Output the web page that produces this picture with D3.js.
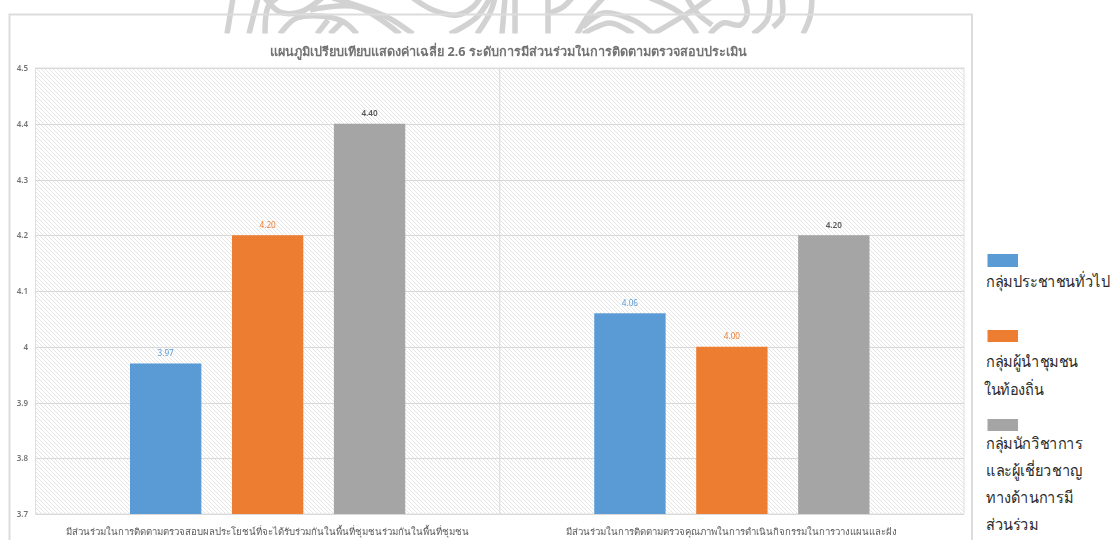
<!DOCTYPE html>
<html><head><meta charset="utf-8">
<script src="https://cdn.jsdelivr.net/npm/d3@7"></script>
<style>html,body{margin:0;padding:0;background:#fff;overflow:hidden}svg{display:block}text{font-family:"Noto Sans",sans-serif}</style>
</head><body><svg id="c" width="1112" height="540"></svg>
<script>
const categories=["มีส่วนร่วมในการติดตามตรวจสอบผลประโยชน์ที่จะได้รับร่วมกันในพื้นที่ชุมชนร่วมกันในพื้นที่ชุมชน","มีส่วนร่วมในการติดตามตรวจคุณภาพในการดำเนินกิจกรรมในการวางแผนและฝัง"];
const seriesNames=["กลุ่มประชาชนทั่วไป","กลุ่มผู้นำชุมชน","กลุ่มนักวิชาการ"];
const legendLines=[["กลุ่มประชาชนทั่วไป"],["กลุ่มผู้นำชุมชน","ในท้องถิ่น"],["กลุ่มนักวิชาการ","และผู้เชี่ยวชาญ","ทางด้านการมี","ส่วนร่วม"]];
const publicValues=[3.97,4.06];
const leaderValues=[4.20,4.00];
const academicValues=[4.40,4.20];
const yTicks=[3.7,3.8,3.9,4,4.1,4.2,4.3,4.4,4.5];
const colors=["#5b9bd5","#ed7d31","#a5a5a5"];
const labelColors=["#5b9bd5","#ed7d31","#595959"];
const titleText="แผนภูมิเปรียบเทียบแสดงค่าเฉลี่ย 2.6 ระดับการมีส่วนร่วมในการติดตามตรวจสอบประเมิน";
const series=[publicValues,leaderValues,academicValues];

const svg=d3.select("#c");
const defs=svg.append("defs");
const p=defs.append("pattern").attr("id","h").attr("width",4).attr("height",4).attr("patternUnits","userSpaceOnUse");
p.append("rect").attr("width",4).attr("height",4).attr("fill","#fff");
p.append("path").attr("d","M-1,-1L5,5M-1,3L1,5M3,-1L5,1").attr("stroke","#e2e2e2").attr("stroke-width",0.9);
defs.append("clipPath").attr("id","wm").append("rect").attr("x",0).attr("y",0).attr("width",1112).attr("height",33.5);
defs.append("filter").attr("id","soft").append("feGaussianBlur").attr("stdDeviation",0.35);

// decorative seal behind the chart's top edge
const sealStrokes=[
 [[233,-2],[227,34]],[[258,-2],[249,34]],[[277,-2],[268,7],[265,34]],
 [[265,-2],[280,12],[300,12],[322,-2]],[[310,10],[357,7],[400,34]],[[333,-2],[387,17],[413,34]],
 [[280,34],[297,18],[340,20],[357,34]],[[317,34],[328,20]],[[330,34],[342,22]],
 [[413,-2],[433,10],[457,15],[473,7],[480,-2]],[[450,34],[477,17],[490,-2]],[[477,34],[490,13],[495,-2]],
 [[502,34],[505,-2]],[[515,34],[515,-2]],
 [[548,-2],[548,34]],[[550,13],[563,7],[572,-2]],[[577,34],[590,13],[603,-2]],
 [[583,27],[603,13],[633,20],[653,34]],[[583,34],[610,23],[633,34]],[[650,-2],[680,13],[697,34]],
 [[653,34],[693,10],[710,-2]],[[687,-2],[697,13],[712,25]],[[710,34],[723,23],[740,25],[747,15],[744,-2]],
 [[753,34],[767,20],[770,-2]],[[782,-2],[782,17],[773,27]],[[803,34],[810,17],[812,-2]]];
const sealLine=d3.line().curve(d3.curveCatmullRom);
svg.append("g").attr("clip-path","url(#wm)").selectAll("path").data(sealStrokes).join("path")
 .attr("d",sealLine).attr("fill","none").attr("stroke","#d2d2d2").attr("stroke-width",5.5);

svg.append("rect").attr("x",9.5).attr("y",14.5).attr("width",962.5).attr("height",540).attr("fill","none").attr("stroke","#dcdcdc").attr("stroke-width",2);

const plot={left:35.5,right:964,top:68,bottom:514};
const y=d3.scaleLinear().domain([3.7,4.5]).range([plot.bottom,plot.top]);
const x0=d3.scaleBand().domain(categories).range([plot.left,plot.right]);
const x1=d3.scaleBand().domain(d3.range(3)).range([0,x0.bandwidth()]).paddingInner(0.3).paddingOuter(0.927);

svg.append("rect").attr("x",plot.left).attr("y",plot.top).attr("width",plot.right-plot.left).attr("height",plot.bottom-plot.top).attr("fill","url(#h)").attr("stroke","#dedede");
svg.append("g").selectAll("line").data(yTicks).join("line").attr("x1",plot.left).attr("x2",plot.right)
 .attr("y1",d=>Math.round(y(d))+0.5).attr("y2",d=>Math.round(y(d))+0.5).attr("stroke","#d9d9d9");
svg.append("line").attr("x1",x0(categories[1])).attr("x2",x0(categories[1])).attr("y1",plot.top).attr("y2",plot.bottom).attr("stroke","#d9d9d9");

const soft=svg.append("g").attr("filter","url(#soft)");
soft.append("text").attr("x",508.5).attr("y",56).attr("text-anchor","middle").attr("font-size",12.7).attr("font-weight",700).attr("fill","#737373").text(titleText);

const yAxis=d3.axisLeft(y).tickValues(yTicks).tickSize(0).tickPadding(7.5).tickFormat(d=>String(d));
const ya=soft.append("g").attr("transform",`translate(${plot.left},0)`).call(yAxis);
ya.select(".domain").remove();
ya.selectAll("text").attr("font-size",8).attr("font-weight",600).attr("fill","#737373").style("font-family",'"Noto Sans",sans-serif');

const xAxis=d3.axisBottom(x0).tickSize(0).tickPadding(14.5);
const xa=soft.append("g").attr("transform",`translate(0,${plot.bottom})`).call(xAxis);
xa.select(".domain").remove();
xa.selectAll("text").attr("font-size",9.6).attr("fill","#595959").style("font-family",'"Noto Sans",sans-serif');

const groups=svg.append("g").selectAll("g").data(categories).join("g").attr("transform",d=>`translate(${x0(d)},0)`);
groups.each(function(c,ci){
  const gg=d3.select(this);
  series.forEach((vals,si)=>{
    gg.append("rect").attr("x",x1(si)).attr("width",x1.bandwidth()).attr("y",y(vals[ci])).attr("height",plot.bottom-y(vals[ci])).attr("fill",colors[si]);
    gg.append("text").attr("x",x1(si)+x1.bandwidth()/2).attr("y",y(vals[ci])-7.5).attr("text-anchor","middle").attr("font-size",8.2).attr("font-weight",si===2?600:400).attr("fill",labelColors[si]).attr("filter","url(#soft)").text(vals[ci].toFixed(2));
  });
});

const legendY=[254,330,419];
const legendH=[13,12,12];
const legendBase=[[287],[367,395],[449,476,503,530]];
const legendX=[[986],[986,984],[986,986,986,986]];
const lg=svg.append("g").selectAll("g").data(seriesNames).join("g");
lg.append("rect").attr("x",987.5).attr("width",30.5).attr("y",(d,i)=>legendY[i]).attr("height",(d,i)=>legendH[i]).attr("fill",(d,i)=>colors[i]);
lg.each(function(d,i){
  d3.select(this).selectAll("text").data(legendLines[i]).join("text")
    .attr("transform",(t,j)=>`translate(${legendX[i][j]},${legendBase[i][j]}) scale(0.92,1)`)
    .attr("font-size",15.8).attr("fill","#2b2b2b").text(t=>t);
});
</script></body></html>
